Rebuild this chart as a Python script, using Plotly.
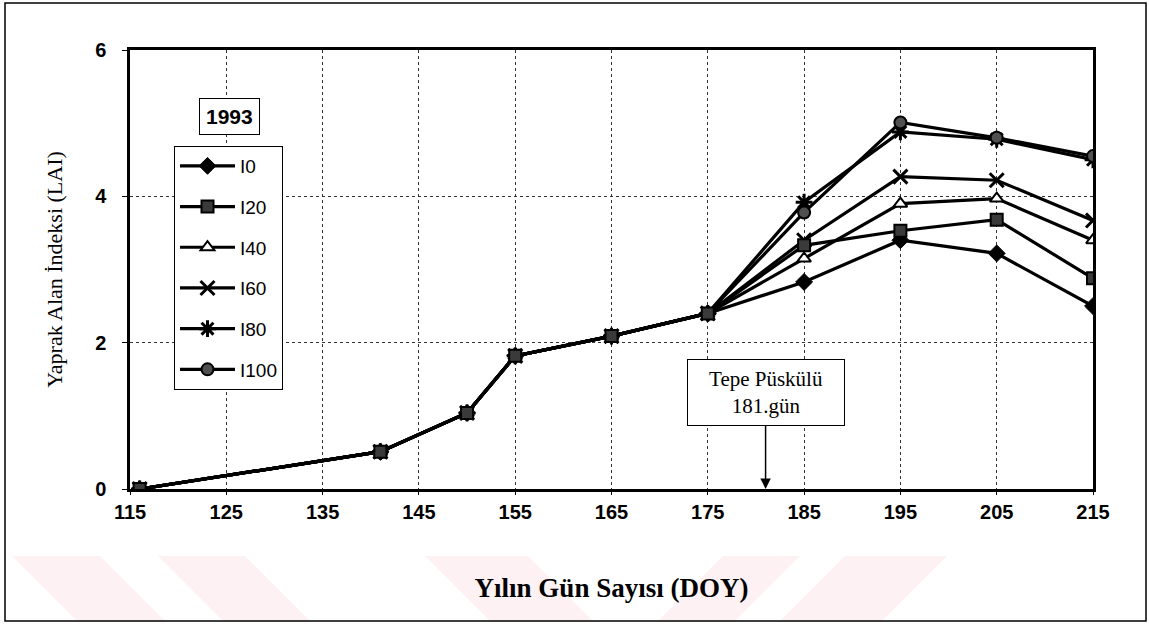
"""Yaprak alan indeksi (LAI) - 1993 sulama konuları"""
import plotly.graph_objects as go

# gün sayıları (DOY)
doy = [116, 141, 150, 155, 165, 175, 185, 195, 205, 215]

# ortak ilk kısım (116-175), sonra konulara göre ayrılıyor
lai_i0 = [0.0, 0.51, 1.04, 1.82, 2.09, 2.40, 2.83, 3.40, 3.22, 2.50]
lai_i20 = [0.0, 0.51, 1.04, 1.82, 2.09, 2.40, 3.33, 3.53, 3.68, 2.88]
lai_i40 = [0.0, 0.51, 1.04, 1.82, 2.09, 2.40, 3.15, 3.90, 3.97, 3.40]
lai_i60 = [0.0, 0.51, 1.04, 1.82, 2.09, 2.40, 3.40, 4.27, 4.22, 3.67]
lai_i80 = [0.0, 0.51, 1.04, 1.82, 2.09, 2.40, 3.92, 4.88, 4.78, 4.50]
lai_i100 = [0.0, 0.51, 1.04, 1.82, 2.09, 2.40, 3.78, 5.01, 4.80, 4.55]

series_names = ['I0', 'I20', 'I40', 'I60', 'I80', 'I100']
series_values = [lai_i0, lai_i20, lai_i40, lai_i60, lai_i80, lai_i100]

x_ticks = [115, 125, 135, 145, 155, 165, 175, 185, 195, 205, 215]
y_ticks = [0, 2, 4, 6]

SERIF = 'Liberation Serif, Times New Roman, serif'
SANS = 'Liberation Sans Narrow, Arial Narrow, Liberation Sans, Arial, sans-serif'

# plot alanı piksel sınırları (1149x624 sayfa)
L, R, T, B = 130, 1093, 50, 489
W, H = 1149, 624


def px(x):
    return (x - L) / (R - L)


def py(y):
    return (B - y) / (B - T)


markers = {
    'I0': dict(symbol='diamond', size=13, color='black', line=dict(color='black', width=1)),
    'I20': dict(symbol='square', size=12, color='#3a3a3a', line=dict(color='black', width=2)),
    'I40': dict(symbol='triangle-up', size=12, color='white', line=dict(color='black', width=2)),
    'I60': dict(symbol='x-thin-open', size=14, color='black', line=dict(color='black', width=3)),
    'I80': dict(symbol='asterisk-open', size=14, color='black', line=dict(color='black', width=3)),
    'I100': dict(symbol='circle', size=12, color='#505050', line=dict(color='black', width=2)),
}

# çizim sırası: kare (I20) en üstte, lejant sırası yine I0..I100
draw_order = ['I0', 'I40', 'I60', 'I80', 'I100', 'I20']

fig = go.Figure()
for name in draw_order:
    vals = series_values[series_names.index(name)]
    fig.add_trace(go.Scatter(
        x=doy, y=vals, name=name, mode='lines+markers',
        legendgroup=name, legendrank=series_names.index(name) + 1,
        line=dict(color='black', width=3.2),
        marker=markers[name],
    ))

# arka plandaki soluk pembe şeritler (filigran)
stripes = [
    [(12, 556), (100, 556), (166, 622), (78, 622)],
    [(158, 556), (245, 556), (311, 622), (224, 622)],
    [(425, 556), (528, 556), (594, 622), (491, 622)],
    [(723, 556), (800, 556), (734, 622), (657, 622)],
    [(845, 556), (947, 556), (881, 622), (779, 622)],
]
shapes = []
for poly in stripes:
    path = 'M ' + ' L '.join(f'{px(a):.4f},{py(b):.4f}' for a, b in poly) + ' Z'
    shapes.append(dict(type='path', xref='paper', yref='paper', path=path,
                       fillcolor='rgba(240,160,175,0.15)', line=dict(width=0), layer='below'))
# dış çerçeve
shapes.append(dict(type='rect', xref='paper', yref='paper',
                   x0=px(5), x1=px(1146), y0=py(621), y1=py(3),
                   line=dict(color='black', width=1.5)))

fig.update_layout(
    width=W, height=H,
    margin=dict(l=L, r=W - R, t=T, b=H - B),
    paper_bgcolor='white', plot_bgcolor='white',
    shapes=shapes,
    showlegend=True,
    legend=dict(
        x=px(174), y=py(146), xanchor='left', yanchor='top',
        bgcolor='white', bordercolor='black', borderwidth=1,
        font=dict(family=SANS, size=19, color='black'),
        itemwidth=55, tracegroupgap=13, traceorder='grouped',
    ),
    xaxis=dict(
        range=[115, 215], tickvals=x_ticks,
        showgrid=True, gridcolor='#333', griddash='dot', gridwidth=1,
        showline=True, linecolor='black', linewidth=2.5, mirror=True,
        ticks='outside', ticklen=3, tickcolor='black',
        tickfont=dict(family=SANS, size=20, color='black', weight='bold'),
        title=dict(text='Yılın Gün Sayısı (DOY)', standoff=57,
                   font=dict(family=SERIF, size=27, color='black', weight='bold')),
        zeroline=False,
    ),
    yaxis=dict(
        range=[0, 6], tickvals=y_ticks,
        showgrid=True, gridcolor='#333', griddash='dot', gridwidth=1,
        showline=True, linecolor='black', linewidth=2.5, mirror=True,
        ticks='outside', ticklen=5, tickcolor='black', ticklabelstandoff=12,
        tickfont=dict(family=SANS, size=20, color='black', weight='bold'),
        title=dict(text='Yaprak Alan İndeksi (LAI)', standoff=27,
                   font=dict(family=SERIF, size=22, color='black')),
        zeroline=False,
    ),
    annotations=[
        dict(text='1993', xref='paper', yref='paper', x=px(229), y=py(117),
             xanchor='center', yanchor='middle',
             showarrow=False, bgcolor='white', bordercolor='black', borderwidth=1,
             borderpad=6, font=dict(family=SANS, size=21, color='black', weight='bold')),
        dict(text='Tepe Püskülü<br>181.gün', x=181, y=0, xref='x', yref='y',
             showarrow=True, ax=0, ay=-97, arrowhead=2, arrowsize=1.4, arrowwidth=1.5,
             arrowcolor='black', bgcolor='white', bordercolor='black', borderwidth=1,
             borderpad=7, width=142,
             font=dict(family=SERIF, size=21, color='black')),
    ],
)

fig.write_html("out.html", config={'displayModeBar': False},
               post_script="document.body.style.margin='0';")
